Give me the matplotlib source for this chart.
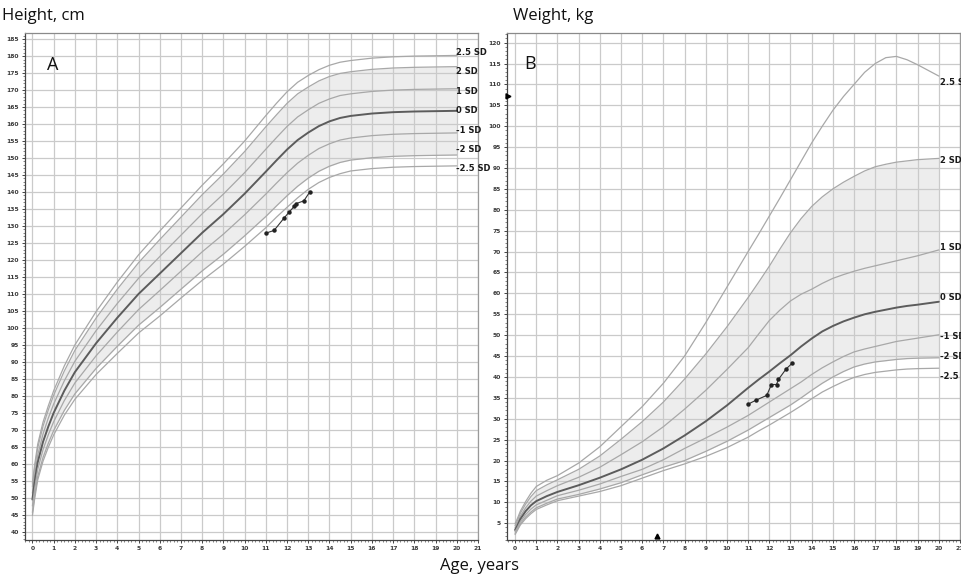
import matplotlib
matplotlib.use("Agg")
import matplotlib.pyplot as plt
from matplotlib.ticker import MultipleLocator

# ---------------- Height-for-age reference curves (cm) ----------------
age_h = [0, 0.1, 0.25, 0.5, 0.75, 1, 1.5, 2, 3, 4, 5, 6, 7, 8, 9, 10, 11, 11.5, 12,
         12.5, 13, 13.5, 14, 14.5, 15, 16, 17, 18, 20]
h_p25 = [54.3, 59.5, 65.8, 72.3, 77.1, 81.5, 88.8, 95.0, 104.8, 113.5, 121.5, 128.5, 135.3,
         142.0, 148.3, 155.0, 162.5, 166.1, 169.5, 172.3, 174.3, 176.0, 177.3, 178.2, 178.7,
         179.4, 179.8, 180.0, 180.2]
h_p2 = [53.3, 58.5, 64.7, 71.1, 75.9, 80.2, 87.3, 93.4, 102.9, 111.4, 119.2, 126.0, 132.6,
        139.2, 145.3, 151.9, 159.2, 162.7, 166.1, 168.9, 170.9, 172.7, 174.0, 174.9, 175.4,
        176.1, 176.5, 176.7, 176.9]
h_p1 = [51.4, 56.5, 62.6, 68.8, 73.5, 77.6, 84.4, 90.2, 99.2, 107.2, 114.6, 121.0, 127.3,
        133.6, 139.4, 145.7, 152.6, 156.0, 159.3, 162.1, 164.2, 166.1, 167.4, 168.4, 168.9,
        169.6, 170.0, 170.2, 170.4]
h_0 = [49.5, 54.5, 60.5, 66.5, 71.0, 75.0, 81.5, 87.0, 95.5, 103.0, 110.0, 116.0, 122.0,
       128.0, 133.5, 139.5, 146.0, 149.3, 152.5, 155.3, 157.5, 159.4, 160.8, 161.8, 162.4,
       163.1, 163.5, 163.7, 163.9]
h_m1 = [47.6, 52.5, 58.4, 64.2, 68.6, 72.4, 78.6, 83.8, 91.8, 98.8, 105.4, 111.0, 116.7,
        122.4, 127.6, 133.3, 139.4, 142.6, 145.7, 148.5, 150.8, 152.8, 154.2, 155.3, 155.9,
        156.6, 157.0, 157.2, 157.4]
h_m2 = [45.7, 50.5, 56.3, 61.9, 66.1, 69.8, 75.7, 80.6, 88.1, 94.6, 100.8, 106.0, 111.4,
        116.8, 121.7, 127.1, 132.8, 135.9, 138.9, 141.7, 144.1, 146.1, 147.6, 148.7, 149.4,
        150.1, 150.5, 150.7, 150.9]
h_m25 = [44.8, 49.5, 55.3, 60.8, 64.9, 68.5, 74.3, 79.0, 86.3, 92.5, 98.5, 103.5, 108.8,
         114.0, 118.8, 124.0, 129.5, 132.6, 135.5, 138.3, 140.8, 142.8, 144.3, 145.4, 146.2,
         146.9, 147.3, 147.5, 147.7]

# ---------------- Weight-for-age reference curves (kg) ----------------
age_w = [0, 0.1, 0.25, 0.5, 0.75, 1, 1.5, 2, 3, 4, 5, 6, 7, 8, 9, 10, 11, 11.5, 12, 12.5,
         13, 13.5, 14, 14.5, 15, 15.5, 16, 16.5, 17, 17.5, 18, 18.5, 19, 20]
w_p25 = [4.9, 6.0, 7.9, 10.2, 12.2, 13.8, 15.3, 16.4, 19.4, 23.3, 28.1, 32.9, 38.5, 45.0,
         53.0, 61.5, 70.0, 74.2, 78.5, 82.8, 87.2, 91.6, 96.0, 100.0, 103.8, 107.1, 110.0,
         112.9, 115.0, 116.4, 116.7, 115.9, 114.7, 112.0]
w_p2 = [4.4, 5.5, 7.4, 9.6, 11.4, 12.8, 14.2, 15.4, 17.9, 21.1, 25.1, 29.3, 34.0, 39.5,
        45.5, 52.0, 59.0, 62.7, 66.5, 70.6, 74.5, 77.9, 80.8, 83.1, 85.0, 86.6, 88.0,
        89.3, 90.3, 90.9, 91.4, 91.7, 92.0, 92.3]
w_p1 = [3.9, 4.9, 6.7, 8.7, 10.3, 11.5, 12.8, 14.0, 16.0, 18.4, 21.4, 24.5, 28.1, 32.3,
        36.8, 41.8, 47.0, 50.3, 53.5, 56.0, 58.2, 59.8, 61.0, 62.4, 63.6, 64.5, 65.3,
        66.0, 66.6, 67.2, 67.8, 68.4, 69.0, 70.4]
w_0 = [3.4, 4.3, 6.0, 7.9, 9.3, 10.3, 11.5, 12.5, 14.1, 15.9, 17.9, 20.2, 22.9, 26.0,
       29.4, 33.2, 37.4, 39.4, 41.3, 43.3, 45.2, 47.3, 49.2, 50.9, 52.2, 53.3, 54.2,
       55.0, 55.6, 56.1, 56.6, 57.0, 57.3, 58.0]
w_m1 = [3.0, 3.9, 5.4, 7.1, 8.4, 9.4, 10.5, 11.6, 12.9, 14.4, 16.2, 17.9, 20.2, 22.9,
        25.4, 28.0, 30.8, 32.4, 34.0, 35.6, 37.2, 38.8, 40.6, 42.2, 43.6, 44.9, 46.0,
        46.7, 47.3, 47.9, 48.5, 48.9, 49.3, 50.1]
w_m2 = [2.6, 3.5, 4.9, 6.5, 7.7, 8.7, 9.8, 10.8, 11.9, 13.2, 14.7, 16.6, 18.4, 20.0,
        22.2, 24.6, 27.3, 28.8, 30.3, 31.8, 33.3, 35.0, 36.8, 38.5, 40.0, 41.3, 42.4,
        43.1, 43.6, 43.9, 44.2, 44.4, 44.5, 44.6]
w_m25 = [2.3, 3.2, 4.6, 6.1, 7.3, 8.3, 9.4, 10.4, 11.5, 12.6, 14.0, 15.8, 17.6, 19.2,
         21.0, 23.1, 25.6, 27.1, 28.5, 30.0, 31.5, 33.1, 34.8, 36.4, 37.7, 38.9, 39.9,
         40.6, 41.1, 41.4, 41.7, 41.9, 42.0, 42.1]

sd_labels = ["2.5 SD", "2 SD", "1 SD", "0 SD", "-1 SD", "-2 SD", "-2.5 SD"]

# ---------------- Patient measurements ----------------
visit_age = [11.0, 11.39, 11.88, 12.1, 12.34, 12.43, 12.79, 13.08]
visit_height = [127.9, 128.7, 132.5, 134.1, 135.8, 136.6, 137.4, 140.1]
visit_weight = [33.5, 34.5, 35.6, 38.2, 38.2, 39.4, 41.9, 43.3]

# markers on the weight axes (current-value indicators)
marker_weight = [107.2]
marker_age = [6.7]

W, H = 962, 577
fig = plt.figure(figsize=(W / 100, H / 100), dpi=100)
fig.patch.set_facecolor("white")

GRID = "#cacaca"
CURVE = "#a8a8a8"
MEDIAN = "#5c5c5c"
SHADE = "#ededed"


def frac(x0, y0, x1, y1):
    return [x0 / W, 1 - y1 / H, (x1 - x0) / W, (y1 - y0) / H]


def style_axes(ax, xlim, ylim, ystep):
    ax.set_xlim(*xlim)
    ax.set_ylim(*ylim)
    ax.xaxis.set_major_locator(MultipleLocator(1))
    ax.xaxis.set_minor_locator(MultipleLocator(1 / 6))
    ax.yaxis.set_major_locator(MultipleLocator(ystep))
    ax.yaxis.set_minor_locator(MultipleLocator(1))
    ax.set_axisbelow(True)
    ax.grid(True, which="major", color=GRID, lw=0.9)
    ax.tick_params(which="major", length=2.5, width=0.7, color="#444444",
                   labelsize=4.3, labelcolor="#3a3a3a", pad=2)
    ax.tick_params(which="minor", length=1.5, width=0.5, color="#555555")
    for side in ("left", "bottom"):
        ax.spines[side].set_color("#444444")
        ax.spines[side].set_linewidth(0.9)
    ax.spines["top"].set_color("#8a8a8a")
    ax.spines["right"].set_color("#9a9a9a")
    ax.spines["top"].set_linewidth(0.9)
    ax.spines["right"].set_linewidth(0.9)


def draw_curves(ax, ages, curves, label_y, label_x):
    p2, m2 = curves[1], curves[5]
    ax.fill_between(ages, m2, p2, color=SHADE, lw=0, zorder=0.2)
    for c, lab, ly in zip(curves, sd_labels, label_y):
        is_med = lab == "0 SD"
        ax.plot(ages, c, color=MEDIAN if is_med else CURVE,
                lw=1.4 if is_med else 0.9, zorder=2,
                solid_joinstyle="round", solid_capstyle="round")
        ax.text(label_x, ly, lab, fontsize=6, fontweight="bold", color="#1a1a1a",
                ha="left", va="center", zorder=4, clip_on=False)


# ---------------- Panel A : height ----------------
axA = fig.add_axes(frac(25, 33, 478, 540))
style_axes(axA, (-0.35, 21.0), (37.6, 186.8), 5)
axA.set_xticks(range(0, 22))
axA.set_yticks(range(40, 190, 5))
axA.set_xticklabels([str(i) for i in range(0, 22)], fontsize=4.3, fontweight="bold")
axA.set_yticklabels([str(v) for v in range(40, 190, 5)], fontsize=4.3, fontweight="bold")
curvesA = [h_p25, h_p2, h_p1, h_0, h_m1, h_m2, h_m25]
labelA_y = [181.2, 175.6, 169.7, 164.1, 158.2, 152.6, 146.8]
draw_curves(axA, age_h, curvesA, labelA_y, 19.95)
axA.plot(visit_age, visit_height, color="#333333", lw=0.8, marker="o", ms=2.2,
         mfc="#222222", mec="#222222", zorder=5)
axA.text(0.7, 177.5, "A", fontsize=13, color="#111111", ha="left", va="center",
         family="Open Sans")

# ---------------- Panel B : weight ----------------
axB = fig.add_axes(frac(507, 33, 960, 540))
style_axes(axB, (-0.38, 21.0), (1.0, 122.3), 5)
axB.set_xticks(range(0, 22))
axB.set_yticks(range(5, 125, 5))
axB.set_xticklabels([str(i) for i in range(0, 22)], fontsize=4.3, fontweight="bold")
axB.set_yticklabels([str(v) for v in range(5, 125, 5)], fontsize=4.3, fontweight="bold")
curvesB = [w_p25, w_p2, w_p1, w_0, w_m1, w_m2, w_m25]
labelB_y = [110.4, 91.9, 70.9, 58.9, 49.6, 44.8, 40.0]
draw_curves(axB, age_w, curvesB, labelB_y, 20.05)
axB.plot(visit_age, visit_weight, color="#333333", lw=0.8, marker="o", ms=2.2,
         mfc="#222222", mec="#222222", zorder=5)
axB.text(0.45, 115.0, "B", fontsize=13, color="#111111", ha="left", va="center",
         family="Open Sans")
axB.plot([-0.33], marker_weight, marker=">", color="black", ms=3.5, lw=0,
         clip_on=False, zorder=6)
axB.plot(marker_age, [1.9], marker="^", color="black", ms=3.5, lw=0,
         clip_on=False, zorder=6)

# ---------------- Axis titles ----------------
fig.text(2 / W, 1 - 16 / H, "Height, cm", fontsize=12, family="Open Sans",
         color="#111111", ha="left", va="center")
fig.text(513 / W, 1 - 16 / H, "Weight, kg", fontsize=12, family="Open Sans",
         color="#111111", ha="left", va="center")
fig.text(480 / W, 1 - 566 / H, "Age, years", fontsize=12, family="Open Sans",
         color="#111111", ha="center", va="center")

fig.savefig("out.png", dpi=100, facecolor="white")
